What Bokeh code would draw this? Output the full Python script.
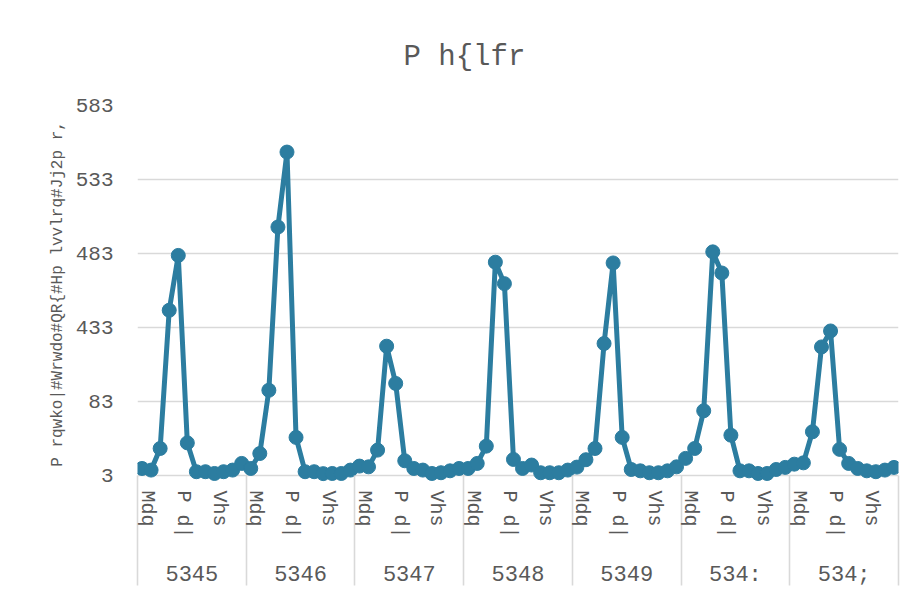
from bokeh.plotting import figure
from bokeh.models import Range1d, FixedTicker, LinearAxis
from bokeh.embed import file_html
from bokeh.resources import INLINE

# ---- data (text reproduced exactly as displayed in the reference) ----
title_text = "P h{lfr"
y_label = "P rqwko|#Wrwdo#QR{#Hp lvvlrq#Jj2p r,"
years = ["5345", "5346", "5347", "5348", "5349", "534:", "534;"]
month_labels = ["Mdq", "P d|", "Vhs"]      # shown months
month_label_idx = [0, 4, 8]               # Jan, May, Sep
y_ticks = [0, 50, 100, 150, 200, 250]
y_tick_labels = ["3", "83", "433", "483", "533", "583"]

v_5345 = [4.5, 3.4, 18.0, 111.5, 148.6, 21.8, 2.3, 2.3, 1.1, 2.3, 3.4, 7.9]
v_5346 = [4.5, 14.6, 57.4, 167.8, 218.5, 25.5, 2.3, 2.3, 1.0, 1.1, 1.1, 3.4]
v_5347 = [6.1, 5.6, 16.9, 87.2, 62.0, 9.7, 4.5, 3.4, 1.1, 1.6, 2.9, 4.5]
v_5348 = [4.5, 7.9, 19.6, 144.0, 129.5, 10.6, 4.5, 6.8, 1.6, 1.6, 1.6, 3.4]
v_5349 = [5.4, 10.4, 18.0, 89.0, 143.5, 25.5, 3.8, 2.9, 1.6, 1.6, 2.9, 5.6]
v_534a = [11.3, 18.0, 43.5, 151.0, 136.7, 27.0, 2.9, 2.9, 1.1, 1.1, 3.8, 5.2]
v_534b = [7.4, 8.3, 29.3, 86.7, 97.5, 17.4, 7.9, 4.5, 2.9, 2.3, 3.4, 5.2]

series = [v_5345, v_5346, v_5347, v_5348, v_5349, v_534a, v_534b]
values = [v for yr in series for v in yr]
n_months = 12
n = len(values)
xs = [i + 0.5 for i in range(n)]

FONT = "Liberation Mono"
GRAY_TXT = "#595959"
GRID = "#D9D9D9"
BLUE = "#2C7DA0"

p = figure(width=915, height=592, output_backend="svg", toolbar_location=None,
           x_range=Range1d(0, n), y_range=Range1d(-5, 250),
           min_border_left=137, min_border_right=17, min_border_top=105,
           min_border_bottom=110)
p.outline_line_color = None
p.background_fill_color = "white"
p.border_fill_color = "white"

# title
p.title.text = title_text
p.title.align = "left"
p.title.offset = 266
p.title.text_font = FONT
p.title.text_font_size = "29px"
p.title.text_font_style = "normal"
p.title.text_color = GRAY_TXT
p.title.standoff = 64

# y axis
yax = p.yaxis[0]
yax.ticker = FixedTicker(ticks=y_ticks)
yax.major_label_overrides = {t: l for t, l in zip(y_ticks, y_tick_labels)}
yax.major_label_text_font = FONT
yax.major_label_text_font_size = "21px"
yax.major_label_text_color = GRAY_TXT
yax.major_label_standoff = 18
yax.major_tick_line_color = None
yax.minor_tick_line_color = None
yax.axis_line_color = None
yax.axis_label = y_label
yax.axis_label_text_font = FONT
yax.axis_label_text_font_size = "16px"
yax.axis_label_text_font_style = "normal"
yax.axis_label_text_color = GRAY_TXT
yax.axis_label_standoff = 6

p.ygrid.ticker = FixedTicker(ticks=y_ticks)
p.ygrid.grid_line_color = GRID
p.ygrid.grid_line_width = 1.6
p.xgrid.visible = False

# month axis (with year separators as long minor ticks)
shift = 0.55
m_ticks, m_over = [], {}
for yi in range(len(years)):
    for mi, ml in zip(month_label_idx, month_labels):
        t = yi * n_months + mi + 0.5 + shift
        m_ticks.append(t)
        m_over[t] = ml
seps = [yi * n_months for yi in range(len(years) + 1)]

sep_out = 103
xax = p.xaxis[0]
xax.ticker = FixedTicker(ticks=m_ticks, minor_ticks=seps)
xax.major_label_overrides = m_over
xax.major_label_orientation = "vertical"
xax.major_label_text_font = FONT
xax.major_label_text_font_size = "20px"
xax.major_label_text_color = GRAY_TXT
xax.major_label_standoff = 8 - sep_out
xax.major_tick_line_color = None
xax.major_tick_out = 0
xax.major_tick_in = 0
xax.axis_line_color = None
xax.minor_tick_line_color = GRID
xax.minor_tick_line_width = 1.6
xax.minor_tick_in = 7
xax.minor_tick_out = sep_out

# year axis
y_centers = [yi * n_months + n_months / 2 for yi in range(len(years))]
yr_ax = LinearAxis(ticker=FixedTicker(ticks=y_centers),
                   major_label_overrides={c: yv for c, yv in zip(y_centers, years)})
yr_ax.major_label_text_font = FONT
yr_ax.major_label_text_font_size = "22px"
yr_ax.major_label_text_color = GRAY_TXT
yr_ax.major_label_standoff = 21
yr_ax.major_tick_line_color = None
yr_ax.minor_tick_line_color = None
yr_ax.major_tick_out = 0
yr_ax.major_tick_in = 0
yr_ax.axis_line_color = None
p.add_layout(yr_ax, "below")

# series
p.line(xs, values, line_color=BLUE, line_width=5)
p.scatter(xs, values, size=14, fill_color=BLUE, line_color=BLUE)

open("out.html", "w").write(file_html(p, INLINE))
